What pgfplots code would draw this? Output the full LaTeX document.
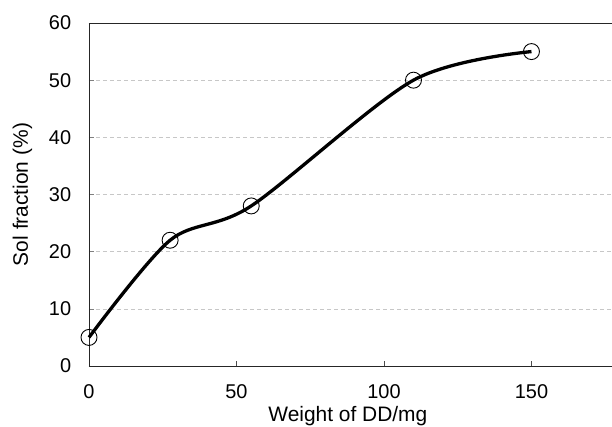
\documentclass[border=0pt]{standalone}
\usepackage{fontspec}
\setmainfont{Liberation Sans}
\usepackage{pgfplots}
\pgfplotsset{compat=1.18}

\begin{document}
\fontsize{20}{24}\selectfont
\begin{tikzpicture}[x=1bp,y=1bp]
  % page is 612 x 427 bp; axis box lower-left at (0,0)
  \path[use as bounding box] (-89bp,-61bp) rectangle (523bp,366bp);
  \begin{axis}[
    at={(0,0)}, anchor=south west,
    scale only axis,
    width=523bp, height=343bp,
    xmin=0, xmax=177.3, ymin=0, ymax=60,
    xtick={0,50,100,150}, ytick={0,10,...,60},
    axis x line=bottom, axis y line=left,
    axis line style={-, line width=0.9bp, black!85},
    tick align=inside,
    major tick length=5bp,
    xtick style={black!70, line width=0.6bp},
    ytick style={black!50, line width=0.6bp},
    ymajorgrids,
    major grid style={dashed, black!22, line width=0.6bp, dash pattern=on 4bp off 3bp},
    /pgf/number format/assume math mode=true,
    ticklabel style={font=\fontsize{20}{24}\selectfont},
    xticklabel style={yshift=-12bp},
    yticklabel style={xshift=-11bp},
    xlabel={Weight of DD/mg},
    ylabel={Sol fraction (\%)},
    label style={font=\fontsize{21}{25}\selectfont},
    xlabel style={at={(axis description cs:0.495,0)}, anchor=north, yshift=-33bp},
    ylabel style={at={(axis description cs:-0.0956,0.5)}, anchor=south},
    clip=false,
  ]
    \addplot[black, line width=3.3bp, smooth, tension=0.5] coordinates {
      (0,5) (27.5,22) (55,28) (110,50) (150,55)
    };
    \addplot[only marks, mark=o, mark size=8bp, mark options={line width=0.9bp, black}] coordinates {
      (0,5) (27.5,22) (55,28) (110,50) (150,55)
    };
    \draw[line width=0.9bp, black!85] (rel axis cs:0,1) -- (rel axis cs:1,1);
  \end{axis}
\end{tikzpicture}
\end{document}
